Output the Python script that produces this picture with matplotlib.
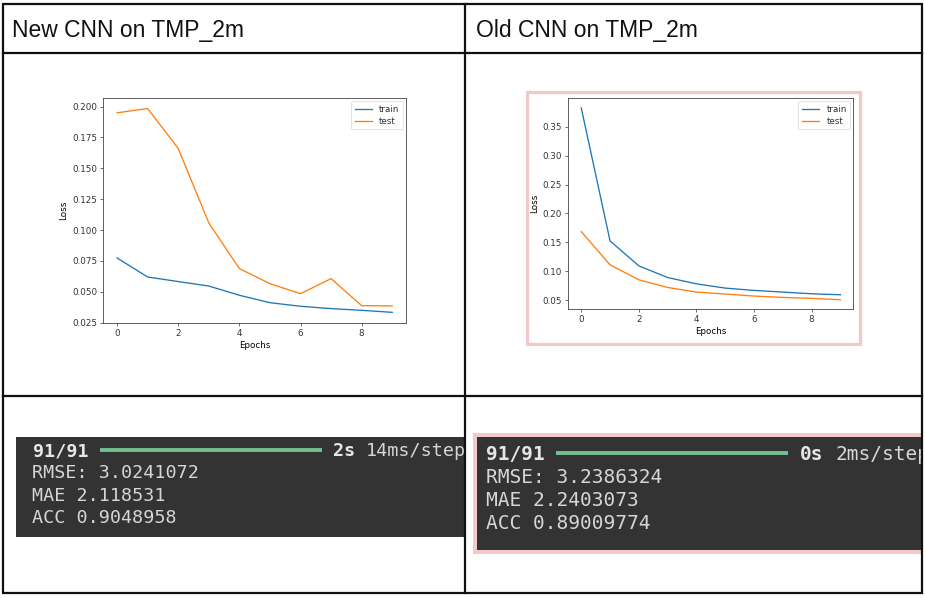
import matplotlib
matplotlib.use("Agg")
import matplotlib.pyplot as plt
from matplotlib.patches import Rectangle

W, H = 925, 598

# ---------------- data ----------------
epochs = list(range(10))
new_train = [0.0774, 0.0620, 0.0583, 0.0547, 0.0472, 0.0412, 0.0383, 0.0364, 0.0350, 0.0334]
new_test = [0.1949, 0.1984, 0.1660, 0.1058, 0.0688, 0.0566, 0.0485, 0.0607, 0.0388, 0.0386]
old_train = [0.3828, 0.1524, 0.1092, 0.0890, 0.0781, 0.0707, 0.0667, 0.0638, 0.0609, 0.0592]
old_test = [0.1686, 0.1110, 0.0851, 0.0718, 0.0638, 0.0604, 0.0569, 0.0546, 0.0529, 0.0506]
new_yticks = [0.025, 0.050, 0.075, 0.100, 0.125, 0.150, 0.175, 0.200]
old_yticks = [0.05, 0.10, 0.15, 0.20, 0.25, 0.30, 0.35]
xticks = [0, 2, 4, 6, 8]

headers = ["New CNN on TMP_2m", "Old CNN on TMP_2m"]
new_progress = ("91/91", "2s", "14ms/step")
old_progress = ("91/91", "0s", "2ms/step")
new_metrics = ["RMSE: 3.0241072", "MAE 2.118531", "ACC 0.9048958"]
old_metrics = ["RMSE: 3.2386324", "MAE 2.2403073", "ACC 0.89009774"]

# ---------------- figure ----------------
fig = plt.figure(figsize=(W / 100, H / 100), dpi=100)
fig.patch.set_facecolor("white")


def rect(x0, y0, x1, y1):
    return [x0 / W, 1 - y1 / H, (x1 - x0) / W, (y1 - y0) / H]


bg = fig.add_axes([0, 0, 1, 1])
bg.set_xlim(0, W)
bg.set_ylim(H, 0)
bg.axis("off")

PINK = "#f2c8c8"

# pink frame around old chart
bg.add_patch(Rectangle((526.5, 91.5), 333, 252.5, fill=False, edgecolor=PINK, lw=2.3))
# pink frame around old terminal
bg.add_patch(Rectangle((473, 433), 449, 121, facecolor=PINK, edgecolor="none"))
bg.add_patch(Rectangle((477, 437), 445, 113, facecolor="#333333", edgecolor="none"))

# headers
hfont = dict(family=["Liberation Sans", "DejaVu Sans"], fontsize=16.5, color="#111111", va="baseline")
bg.text(12, 36.5, headers[0], **hfont)
bg.text(476, 36.5, headers[1], **hfont)


# ---------------- charts ----------------
def chart(pos, train, test, yticks):
    ax = fig.add_axes(pos)
    ax.plot(epochs, train, color="#1f77b4", lw=0.95, label="train")
    ax.plot(epochs, test, color="#ff7f0e", lw=0.95, label="test")
    ax.set_xticks(xticks)
    ax.set_yticks(yticks)
    ax.set_xlabel("Epochs", fontsize=6.3, labelpad=2.2)
    ax.set_ylabel("Loss", fontsize=6.3, labelpad=2.5)
    ax.tick_params(labelsize=6.3, width=0.5, length=2.2, pad=2.2, colors="#333333")
    for s in ax.spines.values():
        s.set_linewidth(0.6)
        s.set_color("#444444")
    leg = ax.legend(fontsize=6.3, loc="upper right", frameon=True, borderaxespad=0.35,
                    handlelength=2.0, borderpad=0.4, labelspacing=0.35)
    leg.get_frame().set_linewidth(0.5)
    for t in leg.get_texts():
        t.set_color("#333333")
    return ax


chart(rect(103.3, 98.3, 406, 322.7), new_train, new_test, new_yticks)
chart(rect(568.3, 98.3, 853.3, 309.3), old_train, old_test, old_yticks)


# ---------------- terminals ----------------
def terminal(pos, x0, y0, x1, y1, size, adv, baselines, text_x, bar, stat_x, prog, metrics):
    ax = fig.add_axes(pos)
    ax.set_xlim(x0, x1)
    ax.set_ylim(y1, y0)
    ax.set_facecolor("#333333")
    ax.set_xticks([])
    ax.set_yticks([])
    for s in ax.spines.values():
        s.set_visible(False)
    mono = dict(family=["DejaVu Sans Mono"], fontsize=size, va="baseline", ha="left", clip_on=True)
    ax.text(text_x, baselines[0], prog[0], color="#e6e6e6", fontweight="bold", **mono)
    ax.plot([bar[0], bar[1]], [bar[2], bar[2]], color="#72bf91", lw=2.8, solid_capstyle="butt")
    ax.text(stat_x, baselines[0], prog[1], color="#e6e6e6", fontweight="bold", **mono)
    ax.text(stat_x + 3 * adv, baselines[0], prog[2], color="#d6d6d6", **mono)
    for i, m in enumerate(metrics):
        ax.text(text_x, baselines[i + 1], m, color="#d6d6d6", **mono)
    return ax


terminal(rect(16, 437, 464, 537), 16, 437, 464, 537, 13.2, 11.0,
         [456, 478.4, 500.8, 523.2], 32.5, (100, 322, 450), 333, new_progress, new_metrics)
terminal(rect(477, 437, 921, 550), 477, 437, 921, 550, 14.0, 11.7,
         [459.5, 482.6, 505.7, 528.8], 486.5, (556, 788, 453), 800, old_progress, old_metrics)

# ---------------- table lines (on top) ----------------
top = fig.add_axes([0, 0, 1, 1], facecolor="none")
top.set_xlim(0, W)
top.set_ylim(H, 0)
top.axis("off")
LW = 1.6
top.add_patch(Rectangle((3, 3.5), 919, 589, fill=False, edgecolor="#111111", lw=LW))
top.plot([465, 465], [3.5, 592.5], color="#111111", lw=LW)
top.plot([3, 922], [53, 53], color="#111111", lw=LW)
top.plot([3, 922], [396, 396], color="#111111", lw=LW)

fig.savefig("out.png", dpi=100)
